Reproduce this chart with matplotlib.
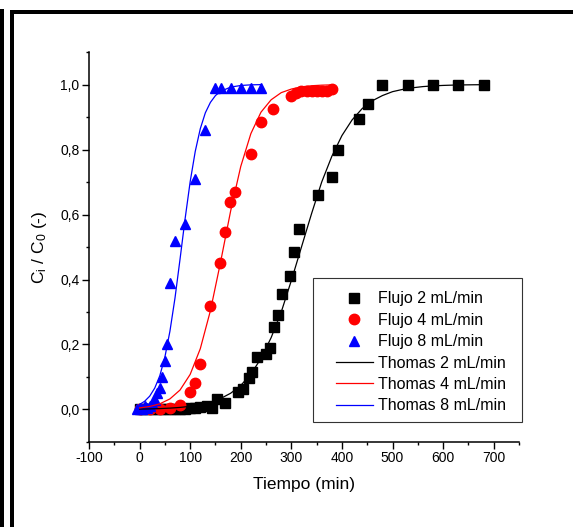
import matplotlib
matplotlib.use("Agg")
import matplotlib.pyplot as plt
from matplotlib.patches import Rectangle
from matplotlib.ticker import MultipleLocator, FuncFormatter

plt.rcParams["font.family"] = ["Liberation Sans", "DejaVu Sans"]
plt.rcParams["mathtext.default"] = "regular"
plt.rcParams["axes.unicode_minus"] = False

# experimental points, flow 2 mL/min
t_2 = [0, 10, 20, 30, 40, 50, 60, 70, 80, 90, 100, 110, 120, 133, 144, 153, 169,
       195, 205, 216, 223, 233, 250, 258, 266, 274, 282, 298, 306, 316, 352, 381,
       393, 433, 452, 480, 530, 580, 630, 680]
c_2 = [0.0, 0.0, 0.0, 0.0, 0.0, 0.0, 0.002, 0.002, 0.003, 0.003, 0.005, 0.005,
       0.008, 0.01, 0.005, 0.033, 0.02, 0.055, 0.063, 0.098, 0.115, 0.162, 0.17,
       0.19, 0.255, 0.29, 0.355, 0.41, 0.485, 0.555, 0.66, 0.715, 0.80, 0.893,
       0.94, 1.0, 1.0, 1.0, 1.0, 1.0]

# flow 4 mL/min
t_4 = [0, 20, 40, 60, 80, 100, 110, 120, 140, 159, 169, 179, 189, 220, 240, 263,
       300, 310, 320, 330, 340, 350, 360, 370, 380]
c_4 = [0.0, 0.0, 0.0, 0.005, 0.015, 0.055, 0.08, 0.14, 0.32, 0.45, 0.545, 0.64,
       0.67, 0.785, 0.885, 0.925, 0.965, 0.975, 0.98, 0.98, 0.98, 0.98, 0.98,
       0.98, 0.985]

# flow 8 mL/min
t_8 = [-5, 0, 5, 10, 15, 20, 25, 30, 35, 40, 45, 50, 55, 60, 70, 90, 110, 130,
       150, 160, 180, 200, 220, 240]
c_8 = [0.0, 0.005, 0.0, 0.01, 0.005, 0.01, 0.02, 0.03, 0.05, 0.065, 0.1, 0.15,
       0.2, 0.39, 0.52, 0.57, 0.71, 0.86, 0.99, 0.99, 0.99, 0.99, 0.99, 0.99]

# Thomas model curves
tm_2 = [0, 20, 40, 60, 80, 100, 120, 140, 160, 180, 200, 220, 240, 260, 280, 300,
        320, 340, 360, 380, 400, 420, 440, 460, 480, 500, 520, 540, 560, 580,
        600, 620, 640, 660, 680]
cm_2 = [0.0012, 0.0018, 0.0028, 0.0042, 0.0064, 0.0098, 0.0148, 0.0223, 0.0336,
        0.050, 0.074, 0.109, 0.157, 0.221, 0.30, 0.397, 0.5, 0.603, 0.70, 0.779,
        0.843, 0.891, 0.926, 0.950, 0.966, 0.978, 0.985, 0.990, 0.9936, 0.9958,
        0.9972, 0.9982, 0.9988, 0.9992, 0.9995]

tm_4 = [0, 20, 40, 60, 80, 100, 120, 140, 160, 180, 200, 220, 240, 260, 280, 300,
        320, 340, 360, 380]
cm_4 = [0.0049, 0.0093, 0.0175, 0.0326, 0.060, 0.108, 0.187, 0.304, 0.453, 0.611,
        0.748, 0.849, 0.915, 0.953, 0.975, 0.986, 0.9928, 0.9962, 0.998, 0.9989]

tm_8 = [0, 10, 20, 30, 40, 50, 60, 70, 80, 90, 100, 110, 120, 130, 140, 150, 160,
        180, 200, 220, 240]
cm_8 = [0.0155, 0.0254, 0.041, 0.066, 0.104, 0.161, 0.241, 0.343, 0.463, 0.587,
        0.701, 0.794, 0.864, 0.913, 0.945, 0.966, 0.979, 0.992, 0.997, 0.999,
        0.9996]

fig = plt.figure(figsize=(5.73, 5.27), dpi=100)
ax = fig.add_axes([0.1553, 0.1613, 0.7505, 0.74])

ax.plot(t_2, c_2, "s", color="black", ms=6.5, mec="black", label="Flujo 2 mL/min")
ax.plot(t_4, c_4, "o", color="red", ms=7.5, mec="red", label="Flujo 4 mL/min")
ax.plot(t_8, c_8, "^", color="blue", ms=7.5, mec="blue", label="Flujo 8 mL/min")
ax.plot(tm_2, cm_2, "-", color="black", lw=0.9, label="Thomas 2 mL/min")
ax.plot(tm_4, cm_4, "-", color="red", lw=0.9, label="Thomas 4 mL/min")
ax.plot(tm_8, cm_8, "-", color="blue", lw=0.9, label="Thomas 8 mL/min")

ax.set_xlim(-100, 750)
ax.set_ylim(-0.1, 1.1)
ax.xaxis.set_major_locator(MultipleLocator(100))
ax.xaxis.set_minor_locator(MultipleLocator(50))
ax.yaxis.set_major_locator(MultipleLocator(0.2))
ax.yaxis.set_minor_locator(MultipleLocator(0.1))
ax.yaxis.set_major_formatter(FuncFormatter(lambda v, p: f"{v:.1f}".replace(".", ",")))

for s in ["top", "right"]:
    ax.spines[s].set_visible(False)
for s in ["left", "bottom"]:
    ax.spines[s].set_linewidth(1.1)
ax.tick_params(which="major", direction="out", length=4.8, width=1.0,
               labelsize=10, pad=2)
ax.tick_params(which="minor", direction="out", length=2.5, width=1.0)

ax.set_xlabel("Tiempo (min)", fontsize=12.5, labelpad=8)
ax.set_ylabel("C$_i$ / C$_0$ (-)", fontsize=12.5, labelpad=8)

# legend box drawn separately, entries placed inside it
ax.add_patch(Rectangle((0.521, 0.0513), 0.486, 0.369, transform=ax.transAxes,
                       facecolor="white", edgecolor="#333333", lw=0.8,
                       clip_on=False, zorder=4))
leg = ax.legend(loc="upper left", bbox_to_anchor=(0.5744, 0.386), borderaxespad=0,
                fontsize=11.5, labelspacing=0.4, handlelength=2.3,
                handletextpad=0.3, borderpad=0, frameon=False, numpoints=1)
leg.set_zorder(5)

# outer frame
fig.add_artist(Rectangle((0, 0), 3.5 / 573, 518 / 527, transform=fig.transFigure,
                         color="black", lw=0))
fig.add_artist(Rectangle((9.5 / 573, 0), 4 / 573, 517.5 / 527,
                         transform=fig.transFigure, color="black", lw=0))
fig.add_artist(Rectangle((9.5 / 573, 513.5 / 527), 1, 4 / 527,
                         transform=fig.transFigure, color="black", lw=0))

fig.savefig("out.png", dpi=100)
